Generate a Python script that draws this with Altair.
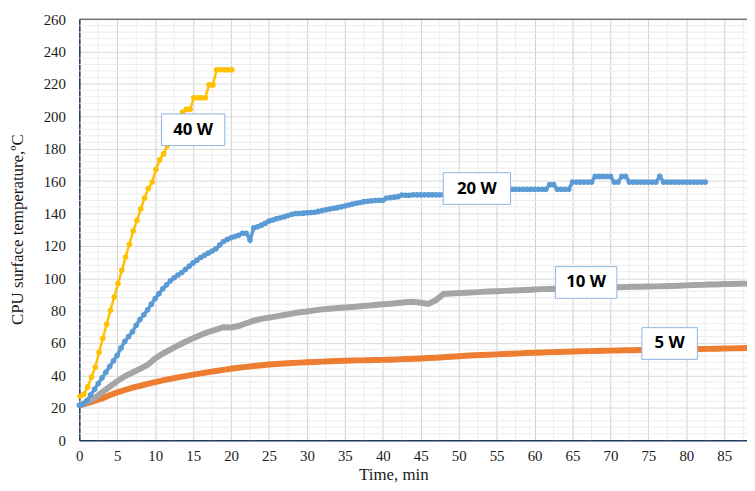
import altair as alt
import pandas as pd

# ---------------- data ----------------
# 40 W series (minutes, deg C)
t_40w = [0.1, 0.6, 1.1, 1.6, 2.1, 2.6, 3.1, 3.6, 4.1, 4.6,
         5.1, 5.6, 6.1, 6.6, 7.1, 7.6, 8.1, 8.6, 9.1, 9.6,
         10.1, 10.6, 11.1, 11.6, 12.1, 12.6, 13.1, 13.6, 14.1, 14.6,
         15.1, 15.6, 16.1, 16.6, 17.1, 17.6, 18.1, 18.6, 19.1, 19.6, 20.1]
temp_40w = [27.1, 28.4, 32.9, 39.0, 45.0, 54.3, 62.9, 71.6, 80.2, 88.4,
            96.8, 104.9, 113.1, 121.0, 129.2, 135.8, 142.7, 149.6, 155.4, 159.4,
            167.2, 173.1, 176.8, 182.0, 187.5, 193.0, 198.0, 202.5, 204.3, 204.3,
            211.5, 211.5, 211.5, 211.5, 219.4, 219.4, 228.8, 228.8, 228.8, 228.8, 228.8]

# 20 W series, sampled every 0.5 min from 0 to 82.5
temp_20w = [21.5, 22.3, 24.5, 28.0, 31.5, 35.0, 38.5, 42.0, 45.5, 49.0,
            52.5, 57.0, 61.0, 64.0, 67.0, 71.0, 74.5, 77.5, 80.5, 84.0,
            87.5, 90.5, 93.5, 96.0, 98.5, 100.3, 102.0, 103.6, 105.5, 107.5,
            109.5, 111.2, 112.8, 114.2, 115.5, 116.8, 118.2, 120.5, 122.7, 124.0,
            125.0, 125.8, 126.5, 127.8, 127.8, 123.7, 131.2, 131.8, 132.8, 134.0,
            135.3, 136.0, 136.8, 137.4, 138.0, 138.8, 139.5, 140.0, 140.0, 140.2,
            140.5, 140.6, 140.8, 141.3, 141.8, 142.3, 142.8, 143.2, 143.6, 144.1,
            144.6, 145.2, 145.8, 146.3, 146.8, 147.3, 147.6, 147.8, 148.0, 148.1,
            148.2, 149.6, 149.8, 150.1, 150.4, 151.4, 151.3, 151.3, 151.5, 151.5,
            151.5, 151.5, 151.5, 151.5, 151.5, 151.5, 151.6, 151.8, 152.0, 152.3,
            152.5, 152.8, 153.0, 153.3, 153.5, 153.8, 154.0, 154.3, 154.5, 154.8,
            155.0, 155.0, 155.0, 155.0, 155.0, 155.0, 155.0, 155.0, 155.0, 155.0,
            155.0, 155.0, 155.0, 155.0, 157.8, 157.8, 155.0, 155.0, 155.0, 155.0,
            159.4, 159.4, 159.4, 159.4, 159.4, 159.4, 162.9, 162.9, 162.9, 162.9,
            162.9, 159.4, 159.4, 162.9, 162.9, 159.4, 159.4, 159.4, 159.4, 159.4,
            159.4, 159.4, 159.4, 162.9, 159.4, 159.4, 159.4, 159.4, 159.4, 159.4,
            159.4, 159.4, 159.4, 159.4, 159.4, 159.4]
t_20w = [0.5 * i for i in range(len(temp_20w))]

# 10 W series, every minute 0..88
temp_10w = [21.5, 23.5, 26.0, 29.5, 33.0, 36.5, 39.5, 41.8, 44.0, 46.5,
            50.5, 53.5, 56.0, 58.5, 60.8, 63.0, 65.0, 66.8, 68.3, 69.8,
            69.6, 70.5, 72.2, 73.8, 74.9, 75.7, 76.5, 77.3, 78.2, 79.0,
            79.5, 80.2, 80.8, 81.2, 81.6, 81.9, 82.3, 82.7, 83.1, 83.5,
            83.9, 84.3, 84.7, 85.2, 85.5, 84.9, 84.1, 86.5, 90.3, 90.6,
            90.9, 91.1, 91.3, 91.6, 91.8, 92.0, 92.2, 92.4, 92.6, 92.8,
            93.1, 93.3, 93.4, 93.5, 93.7, 93.8, 94.0, 94.1, 94.2, 94.3,
            94.4, 94.5, 94.6, 94.7, 94.8, 94.9, 95.0, 95.1, 95.2, 95.4,
            95.6, 95.8, 95.9, 96.1, 96.2, 96.4, 96.5, 96.6, 96.7]
t_10w = list(range(len(temp_10w)))

# 5 W series, every minute 0..88
temp_5w = [21.5, 22.8, 24.2, 25.8, 27.8, 29.5, 31.0, 32.4, 33.6, 34.8,
           35.9, 36.9, 37.9, 38.8, 39.6, 40.5, 41.3, 42.0, 42.7, 43.4,
           44.1, 44.7, 45.3, 45.8, 46.3, 46.7, 47.1, 47.4, 47.7, 47.9,
           48.1, 48.3, 48.5, 48.7, 48.9, 49.1, 49.2, 49.3, 49.4, 49.5,
           49.6, 49.7, 49.9, 50.1, 50.3, 50.5, 50.7, 50.9, 51.2, 51.5,
           51.8, 52.1, 52.4, 52.6, 52.8, 53.0, 53.2, 53.4, 53.6, 53.8,
           54.0, 54.2, 54.4, 54.5, 54.6, 54.8, 54.9, 55.0, 55.1, 55.2,
           55.3, 55.4, 55.5, 55.6, 55.7, 55.8, 55.9, 56.0, 56.0, 56.1,
           56.2, 56.3, 56.3, 56.4, 56.5, 56.6, 56.7, 56.8, 56.9]
t_5w = list(range(len(temp_5w)))

# series labels and where they sit (minutes, deg C)
label_text = ["40 W", "20 W", "10 W", "5 W"]
label_t = [15.0, 52.4, 66.8, 77.8]
label_temp = [191.7, 155.4, 97.4, 59.7]

x_ticks = list(range(0, 90, 5))
y_ticks = list(range(0, 280, 20))
minor_x = [2.5 + 5 * k for k in range(18)]
minor_y = [v for v in range(4, 260, 4) if v % 20 != 0]

# ---------------- styles ----------------
C40, C20, C10, C5 = "#FFC000", "#5B9BD5", "#A5A5A5", "#ED7D31"
box_w = {"40 W": 64, "20 W": 68, "10 W": 62, "5 W": 56}
SERIF = "Liberation Serif"

x_scale = alt.Scale(domain=[0, 88], nice=False, zero=False)
y_scale = alt.Scale(domain=[0, 260], nice=False)

x_axis = alt.Axis(values=x_ticks, grid=True, gridColor="#CFCFCF", gridWidth=1,
                  ticks=False, domainColor="#1F3864", domainWidth=1.5,
                  labelFont=SERIF, labelFontSize=15, labelColor="#1a1a1a",
                  labelPadding=9, labelFlush=False,
                  title="Time, min", titleFont=SERIF, titleFontSize=17,
                  titleFontWeight="normal", titleColor="#1a1a1a",
                  titleX=317, titleY=27, titleBaseline="top", titleAlign="center")
y_axis = alt.Axis(values=y_ticks, grid=True, gridColor="#DADADA", gridWidth=1,
                  ticks=False, domainColor="#1F3864", domainWidth=1.5,
                  labelFont=SERIF, labelFontSize=15, labelColor="#1a1a1a",
                  labelPadding=14,
                  title="CPU surface temperature,ºC", titleFont=SERIF,
                  titleFontSize=17, titleFontWeight="normal", titleColor="#1a1a1a",
                  titleAngle=-90, titleX=-57, titleY=212, titleBaseline="alphabetic",
                  titleAlign="center")


def X(field="t"):
    return alt.X(f"{field}:Q", scale=x_scale, axis=x_axis)


def Y(field="T"):
    return alt.Y(f"{field}:Q", scale=y_scale, axis=y_axis)


minor_v = alt.Chart(pd.DataFrame({"t": minor_x})).mark_rule(
    color="#EDEDED", strokeWidth=1).encode(x=X())
minor_h = alt.Chart(pd.DataFrame({"T": minor_y})).mark_rule(
    color="#EDEDED", strokeWidth=1).encode(y=Y())

df5 = pd.DataFrame({"t": t_5w, "T": temp_5w})
df10 = pd.DataFrame({"t": t_10w, "T": temp_10w})
df20 = pd.DataFrame({"t": t_20w, "T": temp_20w})
df40 = pd.DataFrame({"t": t_40w, "T": temp_40w})

l5 = alt.Chart(df5).mark_line(color=C5, strokeWidth=6, clip=True).encode(x=X(), y=Y())
l10 = alt.Chart(df10).mark_line(color=C10, strokeWidth=6, clip=True).encode(x=X(), y=Y())
l20 = alt.Chart(df20).mark_line(color=C20, strokeWidth=3.5, clip=True).encode(x=X(), y=Y())
p20 = alt.Chart(df20).mark_circle(color=C20, size=32, opacity=1).encode(x=X(), y=Y())
l40 = alt.Chart(df40).mark_line(color=C40, strokeWidth=2.5, clip=True).encode(x=X(), y=Y())
p40 = alt.Chart(df40).mark_circle(color=C40, size=32, opacity=1).encode(x=X(), y=Y())

layers = [minor_v, minor_h, l5, l10, l20, p20, l40, p40]

lab_df = pd.DataFrame({"label": label_text, "t": label_t, "T": label_temp})
for name in label_text:
    one = lab_df[lab_df["label"] == name]
    layers.append(alt.Chart(one).mark_rect(
        width=box_w[name], height=32, fill="white", stroke="#8FB4E0",
        strokeWidth=1).encode(x=X(), y=Y()))
layers.append(alt.Chart(lab_df).mark_text(
    font="Open Sans", fontWeight="bold", fontSize=17, color="black",
    align="center", baseline="middle").encode(x=X(), y=Y(), text="label:N"))

top_rule = alt.Chart(pd.DataFrame({"T": [260]})).mark_rule(
    color="#3a3a3a", strokeWidth=1).encode(y=Y())
layers.append(top_rule)

chart = alt.layer(*layers).properties(
    width=674, height=425,
    autosize=alt.AutoSizeParams(type="none"),
    padding={"left": 72, "top": 9, "right": 0, "bottom": 48},
).configure_view(stroke=None)

chart.save("out.html", embed_options={"renderer": "svg", "actions": False})
